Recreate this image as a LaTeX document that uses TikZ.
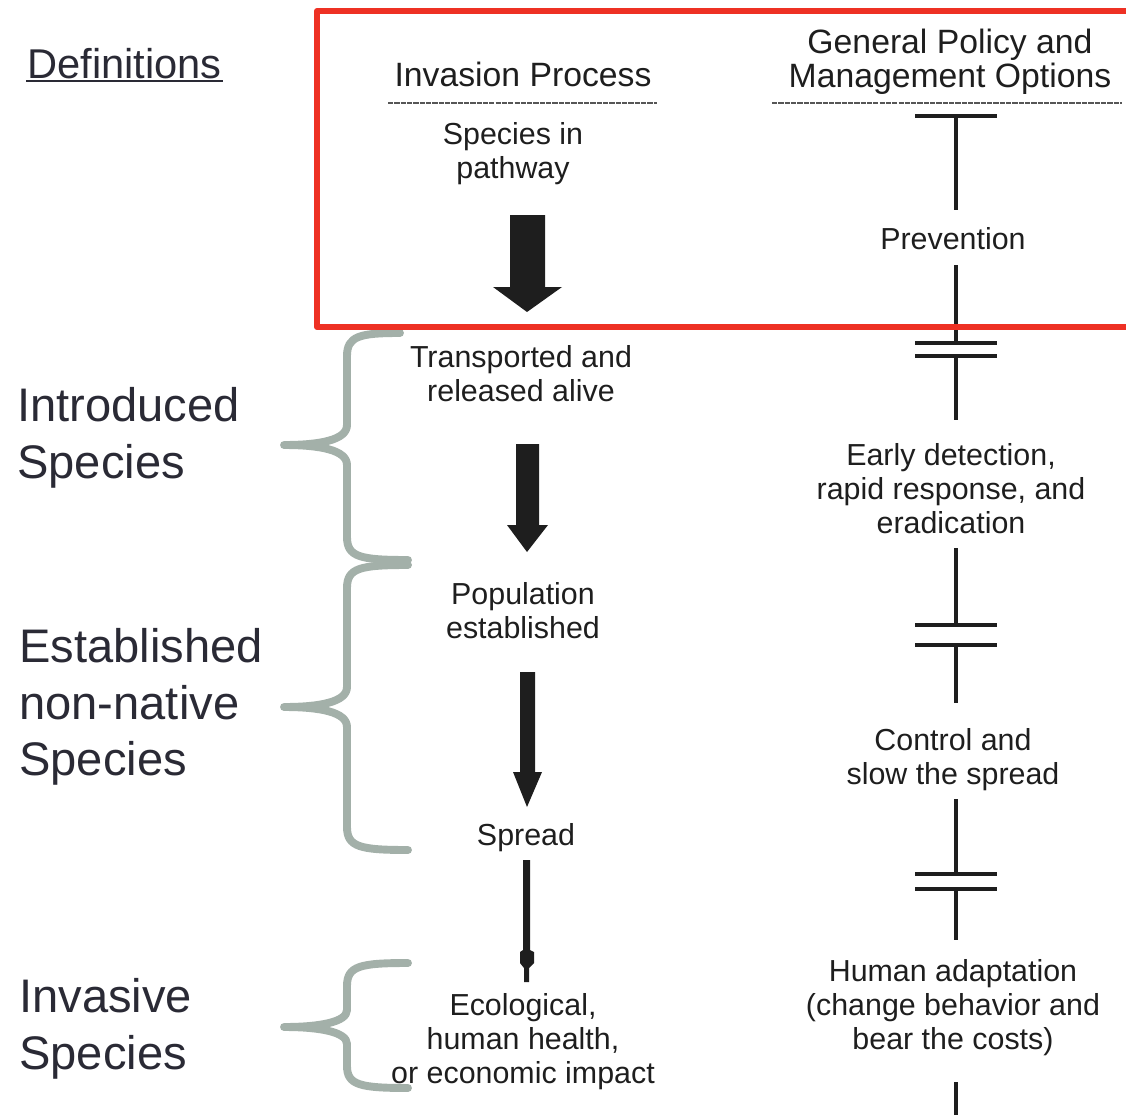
\documentclass[tikz,border=0pt]{standalone}
\usepackage{fontspec}
\setmainfont{Liberation Sans}
\definecolor{ink}{HTML}{1E1E1E}
\definecolor{slate}{HTML}{2A2A35}
\definecolor{bracegray}{HTML}{A3B0A9}
\definecolor{boxred}{HTML}{EE3124}
\begin{document}
\begin{tikzpicture}[x=0.02cm,y=-0.02cm,
  body/.style={font=\fontsize{17.3}{19.3}\selectfont, align=center, inner sep=0pt, text=ink},
  head/.style={font=\fontsize{19.2}{19.3}\selectfont, align=center, inner sep=0pt, text=ink},
  big/.style={font=\fontsize{26.8}{32.3}\selectfont, align=left, inner sep=0pt, anchor=west, text=slate},
  stem/.style={draw=ink, line width=2pt},
  bar/.style={draw=ink, line width=2.3pt},
  blockarrow/.style={fill=ink, draw=none},
  hrule/.style={draw=ink!75, line width=1.1pt, dash pattern=on 3pt off 0.6pt},
  bracestyle/.style={draw=bracegray, line width=4.5pt, line cap=round, line join=round}]
\useasboundingbox (0,0) rectangle (1126,1115);

% Definitions
\node[font=\fontsize{23.7}{26}\selectfont, text=slate, inner sep=0pt] (def) at (124.5,64) {Definitions};
\draw[draw=slate, line width=1.1pt] (26,81) -- (223,81);

% headers
\node[head] (hdr1) at (523,74) {Invasion Process};
\node[head] (hdr2) at (950,62) {General Policy and\\Management Options};
\draw[hrule] (388,103) -- (657,103);
\draw[hrule] (772,103) -- (1122,103);

% process column
\node[body] (p1) at (513,154) {Species in\\pathway};
\node[body] (p2) at (521,374) {Transported and\\released alive};
\node[body] (p3) at (523,611) {Population\\established};
\node[body] (p4) at (526,838) {Spread};
\node[body] (p5) at (523,1042) {Ecological,\\human health,\\or economic impact};

% block arrows
\fill[blockarrow] (510,215) -- (545,215) -- (545,287) -- (562,287) -- (527,312) -- (493,287) -- (510,287) -- cycle;
\fill[blockarrow] (516,444) -- (539,444) -- (539,525) -- (548,525) -- (527,552) -- (507,525) -- (516,525) -- cycle;
\fill[blockarrow] (520,672) -- (535,672) -- (535,772) -- (542,772) -- (527,807) -- (513,772) -- (520,772) -- cycle;
\fill[blockarrow] (523,860) -- (530,860) -- (530,950) -- (534,952) -- (534,963) -- (529,968) -- (529,982) -- (524,982) -- (524,968) -- (520,963) -- (520,952) -- (523,950) -- cycle;

% management column
\node[body] (m1) at (953,239) {Prevention};
\node[body] (m2) at (951,489) {Early detection,\\rapid response, and\\eradication};
\node[body] (m3) at (953,760) {Control and\\slow the spread};
\node[body] (m4) at (953,1008) {Human adaptation\\(change behavior and\\bear the costs)};

\coordinate (t0) at (956,116);
\coordinate (t1) at (956,210);
\draw[bar] (915,116) -- (997,116);
\draw[stem] (t0) -- (t1);

\coordinate (a1) at (956,265); \coordinate (b1) at (956,343);
\coordinate (c1) at (956,356); \coordinate (d1) at (956,420);
\draw[stem] (a1) -- (b1);
\draw[bar] (915,343) -- (997,343);
\draw[bar] (915,356) -- (997,356);
\draw[stem] (c1) -- (d1);

\coordinate (a2) at (956,548); \coordinate (b2) at (956,625);
\coordinate (c2) at (956,645); \coordinate (d2) at (956,703);
\draw[stem] (a2) -- (b2);
\draw[bar] (915,625) -- (997,625);
\draw[bar] (915,645) -- (997,645);
\draw[stem] (c2) -- (d2);

\coordinate (a3) at (956,799); \coordinate (b3) at (956,874);
\coordinate (c3) at (956,889); \coordinate (d3) at (956,940);
\draw[stem] (a3) -- (b3);
\draw[bar] (915,874) -- (997,874);
\draw[bar] (915,889) -- (997,889);
\draw[stem] (c3) -- (d3);

\coordinate (a4) at (956,1082); \coordinate (b4) at (956,1115);
\draw[stem] (a4) -- (b4);

% left labels
\node[big] (l1) at (17,438) {Introduced\\Species};
\node[big] (l2) at (19,707) {Established\\non-native\\Species};
\node[big] (l3) at (19,1029) {Invasive\\Species};

% braces
\draw[bracestyle] (400,333) .. controls (360,333) and (347,336) .. (347,356) -- (347,425)
  .. controls (347,440) and (320,445) .. (284,445)
  .. controls (320,445) and (347,450) .. (347,465) -- (347,537)
  .. controls (347,557) and (360,560) .. (408,560);
\draw[bracestyle] (408,565) .. controls (360,565) and (347,568) .. (347,588) -- (347,687)
  .. controls (347,702) and (320,707) .. (284,707)
  .. controls (320,707) and (347,712) .. (347,727) -- (347,827)
  .. controls (347,847) and (360,850) .. (408,850);
\draw[bracestyle] (408,963) .. controls (360,963) and (347,966) .. (347,986) -- (347,1010)
  .. controls (347,1022) and (320,1027) .. (284,1027)
  .. controls (320,1027) and (347,1032) .. (347,1044) -- (347,1066)
  .. controls (347,1085) and (360,1088) .. (408,1088);

% red box
\draw[draw=boxred, line width=3.4pt, line join=round] (1130,11) -- (317,11) -- (317,327) -- (1130,327);
\end{tikzpicture}
\end{document}
